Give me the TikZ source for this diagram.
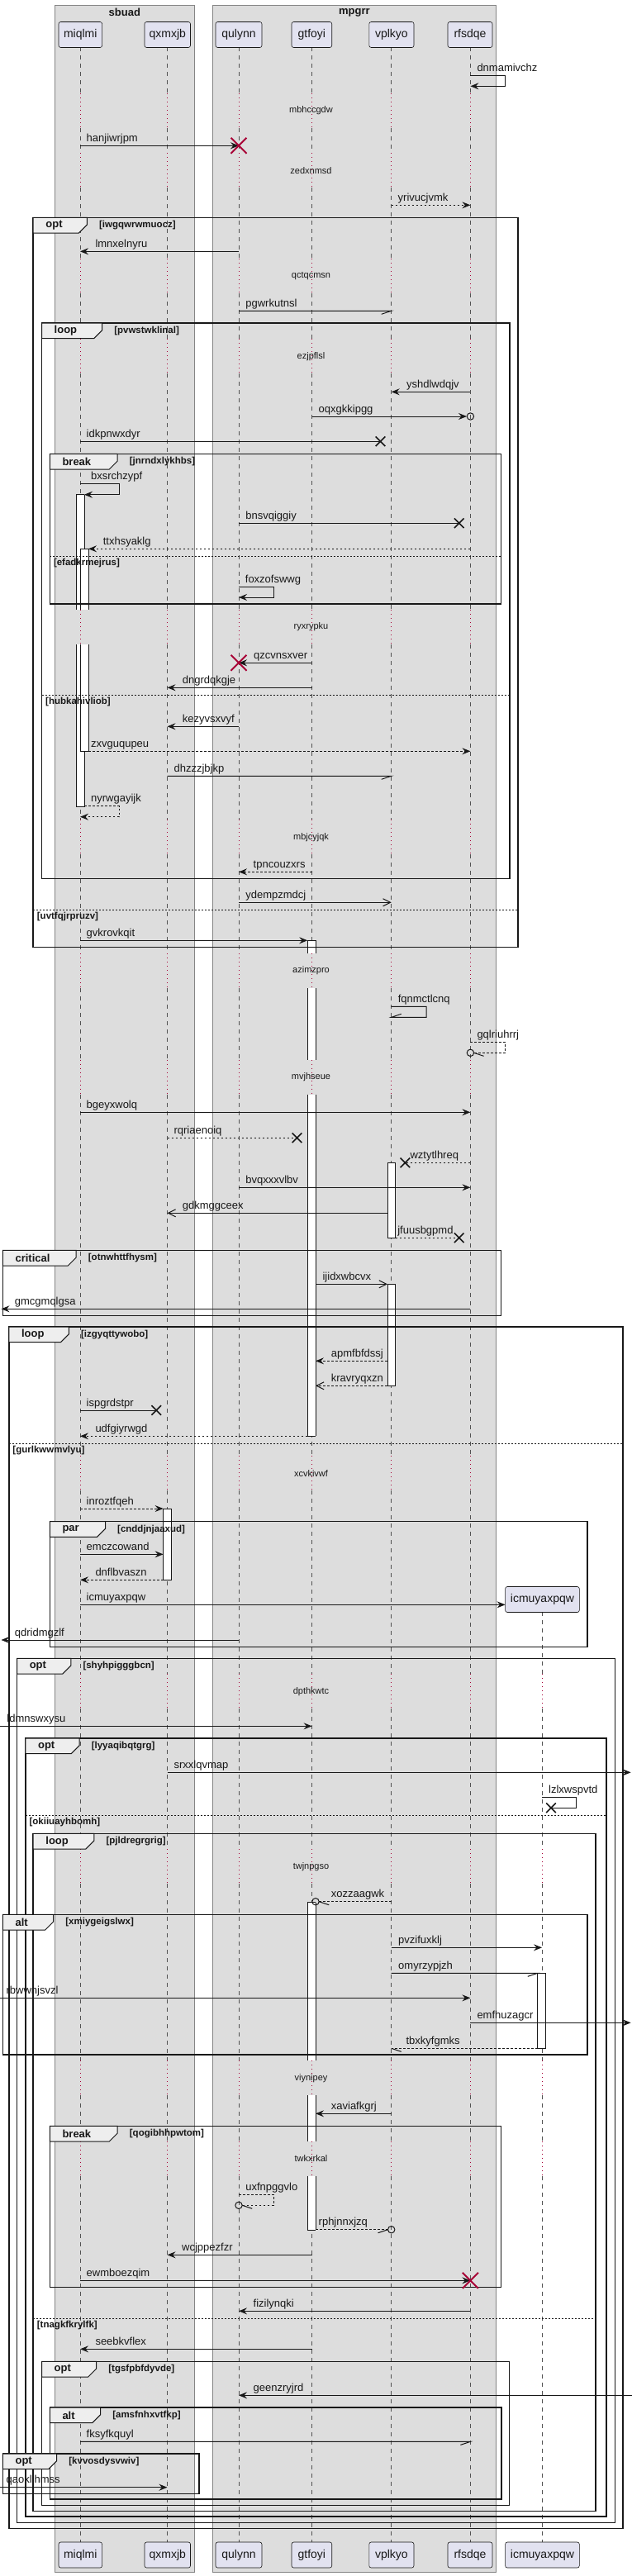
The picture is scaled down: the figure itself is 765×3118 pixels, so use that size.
\documentclass[tikz,border=0pt]{standalone}
\usepackage{fontspec}
\setmainfont{Liberation Sans}
\usetikzlibrary{arrows.meta}
\definecolor{lc}{HTML}{181818}
\definecolor{grp}{HTML}{DDDDDD}
\definecolor{grpb}{HTML}{858585}
\definecolor{partf}{HTML}{E2E2F0}
\definecolor{tabf}{HTML}{EEEEEE}
\definecolor{dx}{HTML}{A80036}
\newcommand\Lbl[4]{\node[mlab] (#1) at (#2,#3-5) {#4};}
\newcommand\RX[2]{\draw[rx] (#1-9.5,#2-9.5) -- (#1+9.5,#2+9.5) (#1-9.5,#2+9.5) -- (#1+9.5,#2-9.5);}
\newcommand\BX[2]{\draw[bx] (#1-5.8,#2-5.8) -- (#1+5.8,#2+5.8) (#1-5.8,#2+5.8) -- (#1+5.8,#2-5.8);}
\newcommand\Frm[8]{%
 \draw[frame] (#1,#2) rectangle (#3,#4);
 \draw[tabshape] (#1,#2) -- (#5,#2) -- (#5,#2+8.7) -- (#5-10,#2+18.7) -- (#1,#2+18.7) -- cycle;
 \node[tablab] (#8t) at (#1+15,#2+9.5) {#6};
 \node[guard] (#8g) at (#5+14.5,#2+9.5) {#7};}
\newcommand\Sep[5]{%
 \draw[sepline] (#1,#3) -- (#2,#3);
 \node[guard] (#5) at (#1+4.5,#3+8.2) {#4};}
\newcommand\Life[1]{%
 \foreach \a/\b in {57.3/113, 155/185.3, 227.3/313, 355/410.3, 452.3/738, 780/992.3, 1034.3/1154, 1196/1282.5, 1324.5/1762.3, 1804.3/2026.3, 2068.3/2238.3, 2280.3/2494.2, 2536.2/2591.5, 2633.5/3076.7} \draw[life] (#1,\a) -- (#1,\b);
 \foreach \a/\b in {113/155, 185.3/227.3, 313/355, 410.3/452.3, 738/780, 992.3/1034.3, 1154/1196, 1282.5/1324.5, 1762.3/1804.3, 2026.3/2068.3, 2238.3/2280.3, 2494.2/2536.2, 2591.5/2633.5} \draw[dly] (#1,\a) -- (#1,\b);}
\newcommand\BarS[6]{%
 \fill[white] (#1,#3) rectangle (#2,#4);
 \draw[actside] (#1,#3) -- (#1,#4) (#2,#3) -- (#2,#4);
 \ifnum#5=1 \draw[actside] (#1,#3) -- (#2,#3);\fi
 \ifnum#6=1 \draw[actside] (#1,#4) -- (#2,#4);\fi}
\begin{document}
\begin{tikzpicture}[x=1pt,y=-1pt,
 life/.style={draw=lc!75, line width=0.6pt, dash pattern=on 5pt off 5pt},
 dly/.style={draw=dx, line width=0.8pt, dash pattern=on 1pt off 4pt},
 msg/.style={draw=lc, line width=1pt},
 dsh/.style={dash pattern=on 2.5pt off 2.5pt},
 fa/.style={-{Stealth[length=10pt,width=8pt,inset=3.5pt]}},
 oa/.style={-{Straight Barb[length=9pt,width=9pt]}},
 mlab/.style={anchor=base west, inner sep=0pt, font=\fontsize{13}{15}\selectfont, text=lc},
 dtext/.style={inner sep=0pt, font=\fontsize{11}{13}\selectfont, text=lc},
 part/.style={draw=lc, line width=0.6pt, fill=partf, rounded corners=2.5pt, minimum height=31pt, inner sep=0pt, font=\fontsize{14}{16}\selectfont, text=lc},
 grpbox/.style={fill=grp, draw=grpb, line width=0.7pt},
 grptitle/.style={font=\bfseries\fontsize{13}{15}\selectfont, inner sep=0pt, text=lc},
 frame/.style={draw=lc, line width=1.5pt},
 tabshape/.style={fill=tabf, draw=lc, line width=1pt},
 tablab/.style={anchor=west, inner sep=0pt, font=\bfseries\fontsize{13}{15}\selectfont, text=lc},
 guard/.style={anchor=west, inner sep=0pt, font=\bfseries\fontsize{11.5}{13}\selectfont, text=lc},
 sepline/.style={draw=lc, line width=1pt, dash pattern=on 2pt off 2pt},
 actside/.style={draw=lc, line width=0.8pt},
 rx/.style={draw=dx, line width=2pt},
 bx/.style={draw=lc, line width=1.6pt}]
\useasboundingbox (0,0) rectangle (765,3118);
\fill[white] (0,0) rectangle (765,3118);
% groups
\draw[grpbox] (66.7,6.3) rectangle (235,3113.3);
\draw[grpbox] (257,6.3) rectangle (600.8,3113.3);
\node[grptitle] (gsbuad) at (150.8,15) {sbuad};
\node[grptitle] (gmpgrr) at (428.9,15) {mpgrr};
% lifelines
\Life{97}\Life{202.5}\Life{289}\Life{377.6}\Life{473.7}\Life{569.4}
\foreach \a/\b in {1951.3/2026.3, 2068.3/2238.3, 2280.3/2494.2, 2536.2/2591.5, 2633.5/3076.7} \draw[life] (656,\a) -- (656,\b);
\foreach \a/\b in {2026.3/2068.3, 2238.3/2280.3, 2494.2/2536.2, 2591.5/2633.5} \draw[dly] (656,\a) -- (656,\b);
% participants
\node[part, minimum width=52.6pt] (pA) at (97.3,42) {miqlmi};
\node[part, minimum width=55.5pt] (pB) at (202.75,42) {qxmxjb};
\node[part, minimum width=56pt] (pC) at (289,42) {qulynn};
\node[part, minimum width=48.7pt] (pD) at (377.35,42) {gtfoyi};
\node[part, minimum width=54.2pt] (pE) at (473.9,42) {vplkyo};
\node[part, minimum width=54pt] (pF) at (569,42) {rfsdqe};
\node[part, minimum width=52.6pt] (qA) at (97.3,3092.5) {miqlmi};
\node[part, minimum width=55.5pt] (qB) at (202.75,3092.5) {qxmxjb};
\node[part, minimum width=56pt] (qC) at (289,3092.5) {qulynn};
\node[part, minimum width=48.7pt] (qD) at (377.35,3092.5) {gtfoyi};
\node[part, minimum width=54.2pt] (qE) at (473.9,3092.5) {vplkyo};
\node[part, minimum width=54pt] (qF) at (569,3092.5) {rfsdqe};
\node[part, minimum width=89.7pt] (qG) at (656.45,3092.5) {icmuyaxpqw};
\node[part, minimum width=89.7pt] (pG) at (656.45,1936) {icmuyaxpqw};
% delay texts
\foreach \t/\y [count=\i] in {mbhccgdw/134, zedxnmsd/206.3, qctqcmsn/334, ezjpflsl/431.3, ryxrypku/759, mbjcyjqk/1013.3, azimzpro/1175, mvjhseue/1303.5, xcvkivwf/1783.3, dpthkwtc/2047.3, twjnpgso/2259.3, viynipey/2515.2, twkxrkal/2612.5}
  \node[dtext] (dl\i) at (376.5,\y) {\t};
% activation bars
\BarS{92.2}{102}{598.7}{738}{1}{0}
\BarS{92.2}{102}{780}{976.7}{0}{1}
\BarS{97.1}{107}{664.3}{738}{1}{0}
\BarS{97.1}{107}{780}{909.3}{0}{1}
\BarS{372.2}{382}{1138.3}{1154}{1}{0}
\BarS{372.2}{382}{1196}{1282.5}{0}{0}
\BarS{372.2}{382}{1324.5}{1738.3}{0}{1}
\BarS{468.9}{478.7}{1407.3}{1498.3}{1}{1}
\BarS{468.9}{478.7}{1554.3}{1677.3}{1}{1}
\BarS{197.6}{207.5}{1826}{1912.3}{1}{1}
\BarS{372.2}{382}{2302.7}{2494.2}{1}{0}
\BarS{372.2}{382}{2536.2}{2591.5}{0}{0}
\BarS{372.2}{382}{2633.5}{2699}{0}{1}
\BarS{650.8}{660.6}{2388.3}{2479.3}{1}{1}
% frames
\Frm{40.2}{263.3}{626.8}{1146.7}{105.4}{opt}{[iwgqwrwmuocz]}{f1}
\Sep{40.2}{626.8}{1101.3}{[uvtfqjrpruzv]}{s1}
\Frm{50.5}{391}{617}{1063.3}{123.6}{loop}{[pvwstwklinal]}{f2}
\Sep{50.5}{617}{841.3}{[hubkahivliob]}{s2}
\Frm{60.3}{549.3}{606.7}{731}{142.2}{break}{[jnrndxlykhbs]}{f3}
\Sep{60.3}{606.7}{673.3}{[efadkrmejrus]}{s3}
\Frm{3.4}{1513.3}{606.7}{1592.3}{92.2}{critical}{[otnwhttfhysm]}{f4}
\Frm{10.8}{1606}{753.8}{3060.7}{83.4}{loop}{[izgyqttywobo]}{f5}
\Sep{10.8}{753.8}{1747.3}{[gurlkwwmvlyu]}{s5}
\Frm{60.3}{1841.7}{711.1}{1993.3}{127.5}{par}{[cnddjnjaaxud]}{f6}
\Frm{20.6}{2007.3}{744.5}{3053.3}{85.8}{opt}{[shyhpigggbcn]}{f7}
\Frm{30.9}{2104}{734.2}{3046}{96.1}{opt}{[lyyaqibqtgrg]}{f8}
\Sep{30.9}{734.2}{2197.3}{[okiiuayhbomh]}{s8}
\Frm{40.2}{2219.3}{721}{3039.3}{113.8}{loop}{[pjldregrgrig]}{f9}
\Sep{40.2}{721}{2806.3}{[tnagkfkrylfk]}{s9}
\Frm{3.4}{2317.3}{711.1}{2487}{64.7}{alt}{[xmiygeigslwx]}{f10}
\Frm{60.3}{2573.3}{606.7}{2768.3}{142.2}{break}{[qogibhhpwtom]}{f11}
\Frm{50.5}{2858.3}{616.5}{3032.7}{116.7}{opt}{[tgsfpbfdyvde]}{f12}
\Frm{60.3}{2914}{607.2}{3025}{121.6}{alt}{[amsfnhxvtfkp]}{f13}
\Frm{3.4}{2970}{240.8}{3018.7}{68.7}{opt}{[kvvosdysvwiv]}{f14}
% messages
\draw[msg,fa] (569.4,91.3) -- (611.6,91.3) -- (611.6,104.3) -- (569.4,104.3);
\Lbl{m1}{577.3}{91.3}{dnmamivchz}
\draw[msg,fa] (97,176.3) -- (289,176.3); \RX{289}{176.3}
\Lbl{m2}{104.5}{176.3}{hanjiwrjpm}
\draw[msg,dsh,fa] (473.7,248.3) -- (569.4,248.3);
\Lbl{m3}{481.5}{248.3}{yrivucjvmk}
\draw[msg,fa] (289,304.3) -- (97,304.3);
\Lbl{m4}{115.3}{304.3}{lmnxelnyru}
\draw[msg] (289,376.3) -- (473.7,376.3) -- ++(-12,4);
\Lbl{m5}{297.2}{376.3}{pgwrkutnsl}
\draw[msg,fa] (569.4,474.3) -- (473.7,474.3);
\Lbl{m6}{491.9}{474.3}{yshdlwdqjv}
\draw[msg,fa] (377.6,504) -- (565,504); \draw[msg] (569.4,504) circle (4.2pt);
\Lbl{m7}{385.5}{504}{oqxgkkipgg}
\draw[msg] (97,534.3) -- (460.5,534.3); \BX{460.5}{534.3}
\Lbl{m8}{104.5}{534.3}{idkpnwxdyr}
\draw[msg,fa] (97,585.7) -- (144.2,585.7) -- (144.2,598.7) -- (102,598.7);
\Lbl{m9}{109.9}{585.7}{bxsrchzypf}
\draw[msg] (289,633.3) -- (555.7,633.3); \BX{555.7}{633.3}
\Lbl{m10}{297.2}{633.3}{bnsvqiggiy}
\draw[msg,dsh,fa] (569.4,664.3) -- (107,664.3);
\Lbl{m11}{124.6}{664.3}{ttxhsyaklg}
\draw[msg,fa] (289,710.7) -- (331,710.7) -- (331,723) -- (289,723);
\Lbl{m12}{296.7}{710.7}{foxzofswwg}
\draw[msg,fa] (377.6,802.3) -- (289,802.3); \RX{289}{802.3}
\Lbl{m13}{307}{802.3}{qzcvnsxver}
\draw[msg,fa] (377.6,832.3) -- (202.5,832.3);
\Lbl{m14}{220.7}{832.3}{dngrdqkgje}
\draw[msg,fa] (289,879.3) -- (202.5,879.3);
\Lbl{m15}{220.7}{879.3}{kezyvsxvyf}
\draw[msg,dsh,fa] (107,909.3) -- (569.4,909.3);
\Lbl{m16}{109.9}{909.3}{zxvguqupeu}
\draw[msg] (202.5,939.3) -- (473.7,939.3) -- ++(-12,4);
\Lbl{m17}{210.4}{939.3}{dhzzzjbjkp}
\draw[msg,dsh,fa] (102,975.7) -- (144.2,975.7) -- (144.2,988.7) -- (97,988.7);
\Lbl{m18}{109.9}{975.7}{nyrwgayijk}
\draw[msg,dsh,fa] (377.6,1055.3) -- (289,1055.3);
\Lbl{m19}{306.5}{1055.3}{tpncouzxrs}
\draw[msg,oa] (289,1092.3) -- (473.7,1092.3);
\Lbl{m20}{297.2}{1092.3}{ydempzmdcj}
\draw[msg,fa] (97,1138.3) -- (372.2,1138.3);
\Lbl{m21}{104.5}{1138.3}{gvkrovkqit}
\draw[msg] (473.7,1218.3) -- (516,1218.3) -- (516,1231.3) -- (473.7,1231.3) -- ++(12,-4);
\Lbl{m22}{481.6}{1218.3}{fqnmctlcnq}
\draw[msg,dsh] (569.4,1261.3) -- (611.6,1261.3) -- (611.6,1274.3) -- (573.6,1274.3);
\draw[msg] (569.4,1274.3) circle (4.2pt); \draw[msg] (573.6,1274.3) -- ++(12,4);
\Lbl{m23}{577.3}{1261.3}{gqlriuhrrj}
\draw[msg,fa] (97,1346.3) -- (569.4,1346.3);
\Lbl{m24}{104.5}{1346.3}{bgeyxwolq}
\draw[msg,dsh] (202.5,1377.3) -- (359.5,1377.3); \BX{359.5}{1377.3}
\Lbl{m25}{210.4}{1377.3}{rqriaenoiq}
\draw[msg,dsh] (569.4,1407.3) -- (490.4,1407.3); \BX{490.4}{1407.3}
\Lbl{m26}{496.3}{1407.3}{wztytlhreq}
\draw[msg,fa] (289,1437.3) -- (569.4,1437.3);
\Lbl{m27}{297.2}{1437.3}{bvqxxxvlbv}
\draw[msg,oa] (468.9,1468.3) -- (202.5,1468.3);
\Lbl{m28}{220.7}{1468.3}{gdkmggceex}
\draw[msg,dsh] (478.7,1498.3) -- (555.7,1498.3); \BX{555.7}{1498.3}
\Lbl{m29}{481.1}{1498.3}{jfuusbgpmd}
\draw[msg,oa] (382,1554.3) -- (468.9,1554.3);
\Lbl{m30}{390.4}{1554.3}{ijidxwbcvx}
\draw[msg,fa] (569.4,1584.3) -- (1.5,1584.3);
\Lbl{m31}{17.7}{1584.3}{gmcgmqlgsa}
\draw[msg,dsh,fa] (468.9,1647.3) -- (382,1647.3);
\Lbl{m32}{400.7}{1647.3}{apmfbfdssj}
\draw[msg,dsh,oa] (468.9,1677.3) -- (382,1677.3);
\Lbl{m33}{400.7}{1677.3}{kravryqxzn}
\draw[msg] (97,1707) -- (189.3,1707); \BX{189.3}{1707}
\Lbl{m34}{104.5}{1707}{ispgrdstpr}
\draw[msg,dsh,fa] (372.2,1738.3) -- (97,1738.3);
\Lbl{m35}{115.3}{1738.3}{udfgiyrwgd}
\draw[msg,dsh,fa] (97,1826) -- (197.6,1826);
\Lbl{m36}{104.5}{1826}{inroztfqeh}
\draw[msg,fa] (97,1881.3) -- (197.6,1881.3);
\Lbl{m37}{104.5}{1881.3}{emczcowand}
\draw[msg,dsh,fa] (197.6,1912.3) -- (97,1912.3);
\Lbl{m38}{115.3}{1912.3}{dnflbvaszn}
\draw[msg,fa] (97,1942.3) -- (611.6,1942.3);
\Lbl{m39}{104.5}{1942.3}{icmuyaxpqw}
\draw[msg,fa] (289,1985) -- (1.5,1985);
\Lbl{m40}{17.7}{1985}{qdridmgzlf}
\draw[msg,fa] (0,2089.3) -- (377.6,2089.3);
\Lbl{m41}{8.3}{2089.3}{ldmnswxysu}
\draw[msg,fa] (202.5,2145.3) -- (763.6,2145.3);
\Lbl{m42}{210.4}{2145.3}{srxxlqvmap}
\draw[msg] (656,2175.3) -- (697.9,2175.3) -- (697.9,2188.3) -- (667,2188.3); \BX{667}{2188.3}
\Lbl{m43}{664}{2175.3}{lzlxwspvtd}
\draw[msg,dsh] (473.7,2301.7) -- (386.2,2301.7);
\draw[msg] (382,2301.7) circle (4.2pt); \draw[msg] (386.2,2301.7) -- ++(12,4);
\Lbl{m44}{400.7}{2301.7}{xozzaagwk}
\draw[msg,fa] (473.7,2357.3) -- (656,2357.3);
\Lbl{m45}{482}{2357.3}{pvzifuxklj}
\draw[msg] (473.7,2388.3) -- (650.8,2388.3) -- ++(-12,4);
\Lbl{m46}{482}{2388.3}{omyrzypjzh}
\draw[msg,fa] (0,2418.3) -- (569.4,2418.3);
\Lbl{m47}{7.4}{2418.3}{rbwwnjsvzl}
\draw[msg,fa] (569.4,2448.3) -- (763.6,2448.3);
\Lbl{m48}{577.3}{2448.3}{emfhuzagcr}
\draw[msg,dsh] (650.8,2479.3) -- (473.7,2479.3); \draw[msg] (473.7,2479.3) -- ++(12,4);
\Lbl{m49}{491.4}{2479.3}{tbxkyfgmks}
\draw[msg,fa] (473.7,2558.3) -- (382,2558.3);
\Lbl{m50}{400.7}{2558.3}{xaviafkgrj}
\draw[msg,dsh] (289,2656.3) -- (331,2656.3) -- (331,2669.3) -- (293.2,2669.3);
\draw[msg] (289,2669.3) circle (4.2pt); \draw[msg] (293.2,2669.3) -- ++(12,4);
\Lbl{m51}{297.2}{2656.3}{uxfnpggvlo}
\draw[msg,dsh] (382,2698.7) -- (469.5,2698.7);
\draw[msg] (473.7,2698.7) circle (4.2pt); \draw[msg] (469.5,2698.7) -- ++(-12,4);
\Lbl{m52}{385.5}{2698.7}{rphjnnxjzq}
\draw[msg,fa] (377.6,2729.3) -- (202.5,2729.3);
\Lbl{m53}{220}{2729.3}{wcjppezfzr}
\draw[msg,fa] (97,2760.3) -- (569.4,2760.3); \RX{569.4}{2760.3}
\Lbl{m54}{104.5}{2760.3}{ewmboezqim}
\draw[msg,fa] (569.4,2797.3) -- (289,2797.3);
\Lbl{m55}{306.5}{2797.3}{fizilynqki}
\draw[msg,fa] (377.6,2843.3) -- (97,2843.3);
\Lbl{m56}{115.3}{2843.3}{seebkvflex}
\draw[msg,fa] (765,2899.3) -- (289,2899.3);
\Lbl{m57}{306.5}{2899.3}{geenzryjrd}
\draw[msg] (97,2955.3) -- (569.4,2955.3) -- ++(-12,4);
\Lbl{m58}{104.5}{2955.3}{fksyfkquyl}
\draw[msg,fa] (0,3010.7) -- (202.5,3010.7);
\Lbl{m59}{7.4}{3010.7}{qaokllhmss}
\end{tikzpicture}
\end{document}
